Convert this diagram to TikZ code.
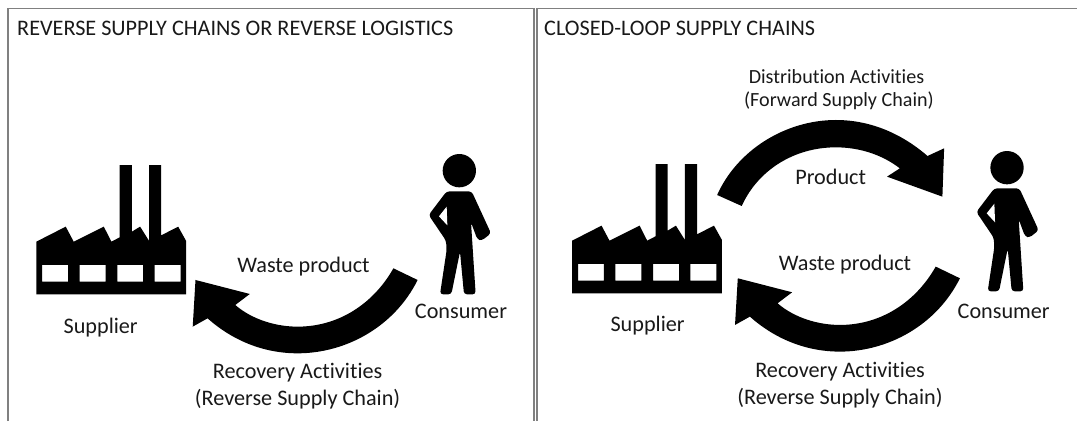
\documentclass[tikz,border=0pt]{standalone}
\usepackage{fontspec}
\setmainfont[Ligatures=NoCommon]{Carlito}
\tikzset{
  lbl/.style={anchor=base,inner sep=0pt,text=black!90,font=\fontsize{22.2pt}{24pt}\selectfont},
  lblsmall/.style={lbl,font=\fontsize{20.1pt}{22pt}\selectfont},
  ttl/.style={anchor=base west,inner sep=0pt,text=black!90,font=\fontsize{22.2pt}{24pt}\selectfont},
  frameline/.style={draw=black!50,line width=1.3pt},
  solid shape/.style={fill=black,draw=none,even odd rule},
  zoomed/.style={x=0.346pt,y=-0.3333pt},
  zoomedperson/.style={x=0.3333pt,y=-0.3333pt},
  factory/.pic={
    \fill[solid shape]
      (105,493) -- (105,335) -- (190,290) -- (213,335) -- (300,290) -- (322,335) -- (346,322) -- (346,105) -- (381,105) -- (381,305)
      -- (405,290) -- (431,333) -- (431,105) -- (466,105) -- (466,316) -- (515,290) -- (538,333) -- (538,493) -- cycle
      (122,405) rectangle (197,455) (230,405) rectangle (305,455)
      (339,405) rectangle (414,455) (447,405) rectangle (522,455);
  },
  consumer/.pic={
    \fill[solid shape] (118,62) circle (50);
    \fill[solid shape,rounded corners=3pt]
      (80,124) -- (155,124) -- (213,250) -- (185,272) -- (172,268) -- (153,217) -- (167,433) -- (132,433) -- (120,305) -- (94,433) -- (60,433)
      -- (80,300) -- (78,272) -- (26,195) -- cycle;
    \fill[white] (80,170) -- (57,199) -- (82,226) -- cycle;
  },
  lowerarrow/.pic={
    \fill[solid shape]
      (1207,450) .. controls (1140,590) and (1000,670) .. (860,670)
      .. controls (760,670) and (670,630) .. (600,565)
      -- (557,590) -- (565,450) -- (722,492) -- (680,525)
      .. controls (730,570) and (800,590) .. (860,590)
      .. controls (980,590) and (1080,520) .. (1137,415) -- cycle;
  },
  upperarrow/.pic={
    \fill[solid shape]
      (512,405) .. controls (570,270) and (710,180) .. (855,180)
      .. controls (960,180) and (1050,225) .. (1120,288)
      -- (1168,265) -- (1163,410) -- (1003,350) -- (1040,325)
      .. controls (990,285) and (925,262) .. (855,262)
      .. controls (735,262) and (630,330) .. (583,438) -- cycle;
  }
}
\begin{document}
\begin{tikzpicture}[x=1pt,y=-1pt]
\useasboundingbox (0,0) rectangle (1077,421);
\coordinate (a) at (8,421); \coordinate (b) at (8,8.5); \coordinate (c) at (534,8.5); \coordinate (d) at (534,421);
\coordinate (e) at (537,421); \coordinate (f) at (537,8.5); \coordinate (g) at (1077,8.5);
\draw[frameline] (a) -- (b) -- (c) -- (d);
\draw[frameline] (e) -- (f) -- (g);
\node[ttl] (t1) at (17,35) {REVERSE SUPPLY CHAINS OR REVERSE LOGISTICS};
\node[ttl] (t2) at (544,35) {CLOSED-LOOP SUPPLY CHAINS};
% left
\pic[shift={(0pt,-130pt)},zoomed] {factory};
\pic[shift={(420pt,-150pt)},zoomedperson] {consumer};
\pic[shift={(0pt,-130pt)},zoomed] {lowerarrow};
\node[lbl] (s1) at (100.7,333.7) {Supplier};
\node[lbl] (w1) at (303.5,272.5) {Waste product};
\node[lbl] (c1) at (461,318.7) {Consumer};
\node[lbl] (r1) at (297.6,378.7) {Recovery Activities};
\node[lbl] (rr1) at (297.6,405.3) {(Reverse Supply Chain)};
% right
\pic[shift={(535.8pt,-129pt)},zoomed] {factory};
\pic[shift={(967.7pt,-147pt)},zoomedperson] {consumer};
\pic[shift={(542.3pt,-128.3pt)},zoomed] {lowerarrow};
\pic[shift={(540pt,-60pt)},zoomed] {upperarrow};
\node[lblsmall] (d2) at (836.5,83) {Distribution Activities};
\node[lblsmall] (f2) at (839,106) {(Forward Supply Chain)};
\node[lbl] (p2) at (830.7,184.5) {Product};
\node[lbl] (w2) at (845,270.5) {Waste product};
\node[lbl] (s2) at (647.6,331.5) {Supplier};
\node[lbl] (c2) at (1003.7,318) {Consumer};
\node[lbl] (r2) at (840,377) {Recovery Activities};
\node[lbl] (rr2) at (840,404) {(Reverse Supply Chain)};
\end{tikzpicture}
\end{document}
